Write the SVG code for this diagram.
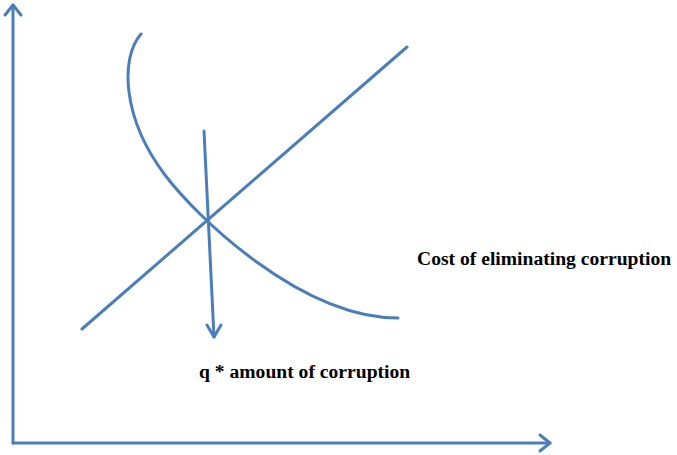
<svg xmlns="http://www.w3.org/2000/svg" width="677" height="455" viewBox="0 0 677 455">
<defs>
<style>
.ln{fill:none;stroke:#4A7EBB;stroke-width:3;stroke-linecap:round;stroke-linejoin:round}
.lbl{font-family:'Liberation Serif','Times New Roman',serif;font-weight:bold;font-size:19.6px;fill:#000}
</style>
</defs>
<rect width="677" height="455" fill="#fff"/>
<g id="connectors">
<g id="y-axis"><path class="ln" d="M13,443 V5"/><path class="ln" d="M5,15 L13,5 L21,15"/></g>
<g id="x-axis"><path class="ln" d="M13,443 H550"/><path class="ln" d="M540,435 L550,443 L540,451"/></g>
<g id="supply-line"><path class="ln" d="M82,329 L407,47"/></g>
<g id="cost-curve"><path class="ln" d="M141,34 C120,58 122,118 165,175 C195,215 300,318 398,318"/></g>
<g id="q-arrow"><path class="ln" d="M204,131 L214,337"/><path class="ln" d="M207,325 L214,337 L221,325"/></g>
</g>
<g id="label-cost"><text class="lbl" x="417" y="265" font-family="Liberation Serif, serif">Cost of eliminating corruption</text></g>
<g id="label-q"><text class="lbl" x="199" y="378" font-family="Liberation Serif, serif">q * amount of corruption</text></g>
</svg>
